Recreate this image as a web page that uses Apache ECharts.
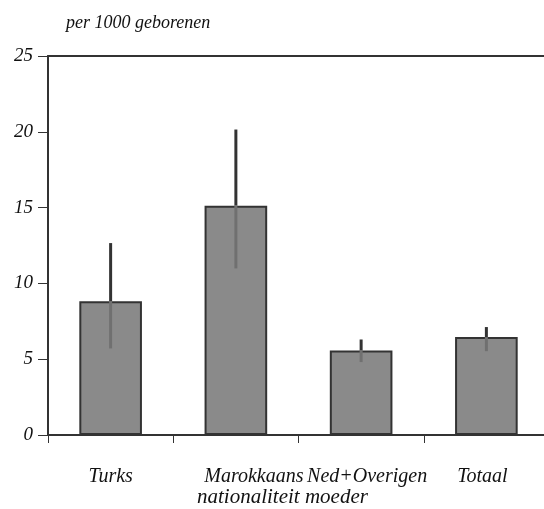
<!DOCTYPE html>
<html>
<head>
<meta charset="utf-8">
<script src="https://cdn.jsdelivr.net/npm/echarts@6/dist/echarts.min.js"></script>
<style>html,body{margin:0;padding:0;background:#fff}#c{width:544px;height:509px}</style>
</head>
<body>
<div id="c"></div>
<script>
const categories = ['Turks', 'Marokkaans', 'Ned+Overigen', 'Totaal'];
const rates = [8.83, 15.13, 5.58, 6.46];
const errLow = [5.71, 10.99, 4.81, 5.53];
const errHigh = [12.66, 20.15, 6.30, 7.12];
const yTicks = [0, 5, 10, 15, 20, 25];

const FONT = '"Liberation Serif", "DejaVu Serif", serif';
const chart = echarts.init(document.getElementById('c'), null, {renderer: 'canvas'});

const errData = categories.map((c, i) => [i, rates[i], errLow[i], errHigh[i]]);
const labelStyle = {fontFamily: FONT, fontStyle: 'italic', fontSize: 20, color: '#111'};
const labelKeys = ['a', 'b', 'c', 'd'];

chart.setOption({
  animation: false,
  backgroundColor: '#fff',
  grid: {left: 48, width: 501, top: 56, height: 379, outerBoundsMode: 'none', containLabel: false},
  graphic: [
    {type: 'text', left: 66, top: 14, style: {text: 'per 1000 geborenen', font: 'italic 18px ' + FONT, fill: '#111'}},
    {type: 'text', left: 197, top: 487, style: {text: 'nationaliteit moeder', font: 'italic 21px ' + FONT, fill: '#111'}}
  ],
  xAxis: [{
    type: 'category', data: categories,
    axisLine: {lineStyle: {color: '#333', width: 2}},
    axisTick: {show: true, interval: 0, length: 8, lineStyle: {color: '#333', width: 1}},
    axisLabel: Object.assign({
      interval: 0, margin: 32,
      formatter: (v, i) => '{' + labelKeys[i] + '|' + v + '}',
      rich: {
        a: Object.assign({padding: [0, 0, 0, 0]}, labelStyle),
        b: Object.assign({padding: [0, 0, 0, 36]}, labelStyle),
        c: Object.assign({padding: [0, 0, 0, 12]}, labelStyle),
        d: Object.assign({padding: [0, 8, 0, 0]}, labelStyle)
      }
    }, labelStyle),
    splitLine: {show: false}
  }, {
    type: 'category', data: categories, position: 'top',
    axisLine: {show: true, lineStyle: {color: '#333', width: 2}},
    axisTick: {show: false}, axisLabel: {show: false}, splitLine: {show: false}
  }],
  yAxis: {
    type: 'value', min: 0, max: 25, interval: 5,
    axisLine: {show: true, lineStyle: {color: '#333', width: 2}},
    axisTick: {show: true, length: 10, lineStyle: {color: '#333', width: 1}},
    axisLabel: {margin: 15, fontFamily: FONT, fontStyle: 'italic', fontSize: 19, color: '#111',
      formatter: v => yTicks.includes(v) ? String(v) : ''},
    splitLine: {show: false}
  },
  series: [
    {
      type: 'bar', data: rates, barWidth: '50%',
      itemStyle: {color: '#8a8a8a', borderColor: '#333', borderWidth: 2}
    },
    {
      type: 'custom', data: errData, z: 5,
      renderItem: function (params, api) {
        const x = api.value(0);
        const pv = api.coord([x, api.value(1)]);
        const pl = api.coord([x, api.value(2)]);
        const ph = api.coord([x, api.value(3)]);
        return {
          type: 'group',
          children: [
            {type: 'line', shape: {x1: pv[0], y1: pv[1], x2: ph[0], y2: ph[1]}, style: {stroke: '#333', lineWidth: 3}},
            {type: 'line', shape: {x1: pv[0], y1: pv[1], x2: pl[0], y2: pl[1]}, style: {stroke: '#707070', lineWidth: 3}}
          ]
        };
      }
    }
  ]
});
</script>
</body>
</html>
